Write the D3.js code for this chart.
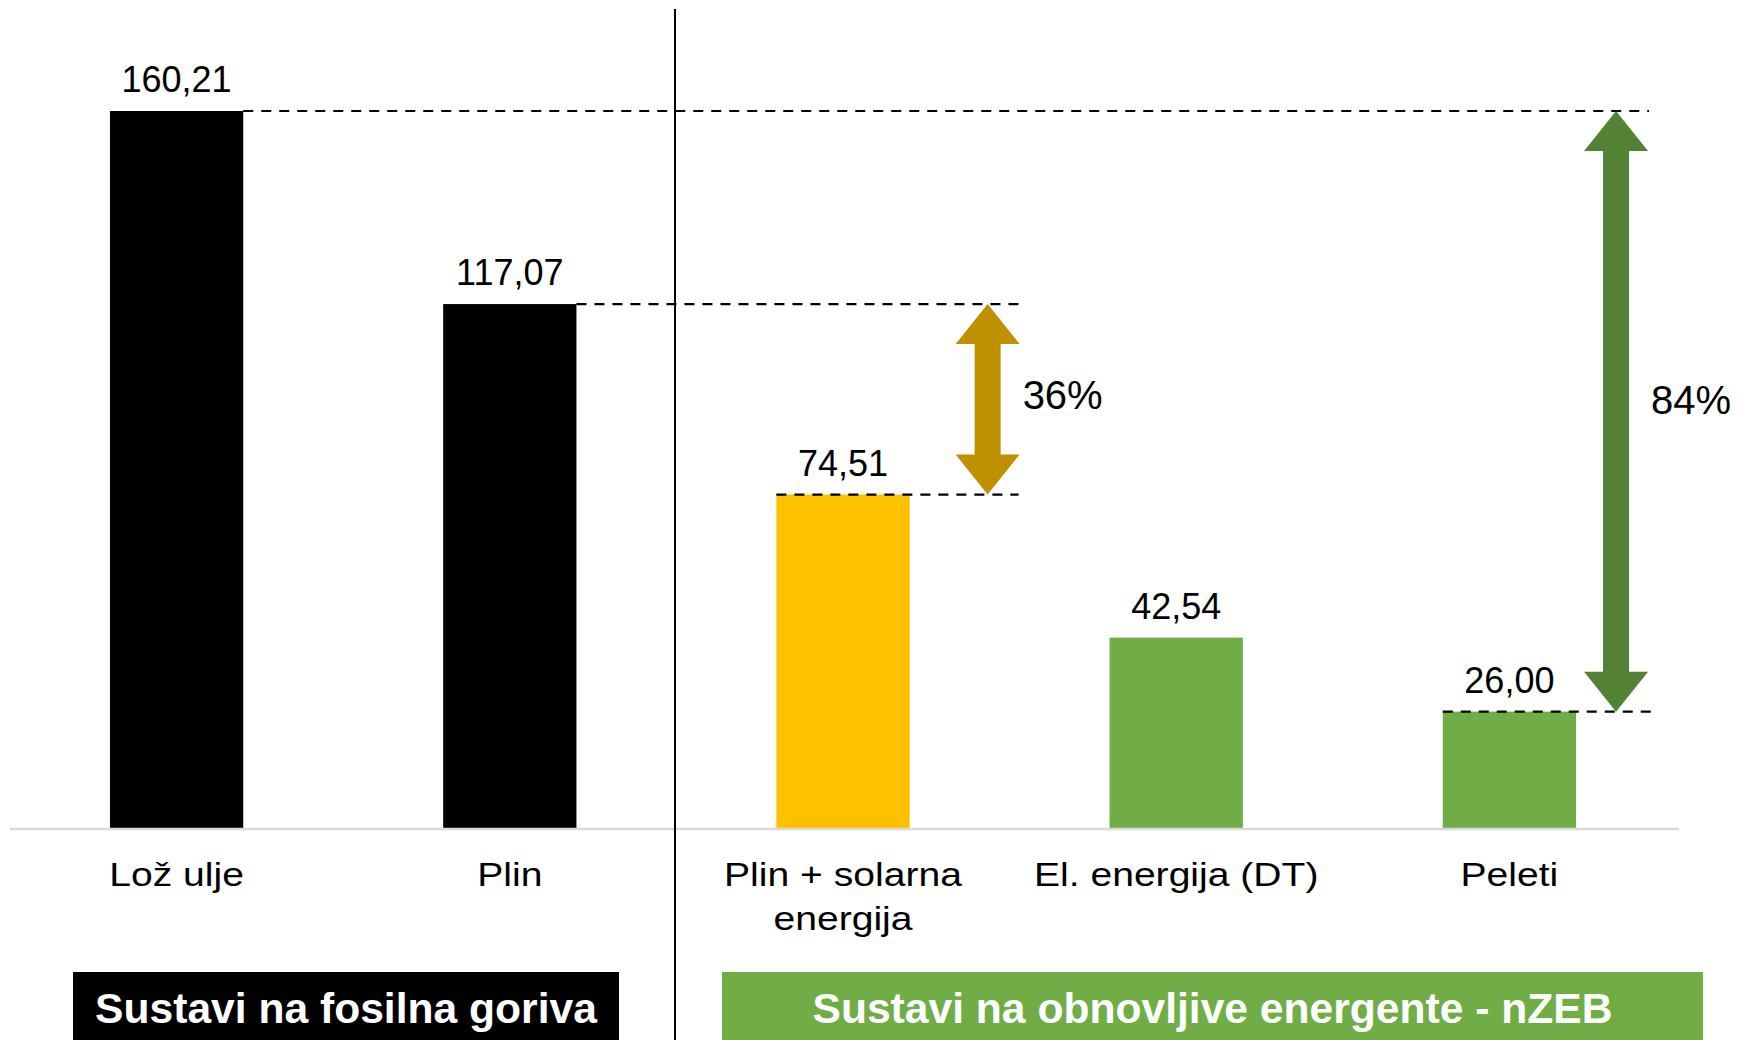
<!DOCTYPE html>
<html>
<head>
<meta charset="utf-8">
<script src="https://cdn.jsdelivr.net/npm/d3@7"></script>
<style>
  body { margin: 0; background: #fff; }
  svg { display: block; font-family: "Liberation Sans", Arial, sans-serif; }
</style>
</head>
<body>
<div id="chart"></div>
<script>
// data
const categories = ["Lož ulje", "Plin", "Plin + solarna energija", "El. energija (DT)", "Peleti"];
const labelLines = [["Lož ulje"], ["Plin"], ["Plin + solarna", "energija"], ["El. energija (DT)"], ["Peleti"]];
const values = [160.21, 117.07, 74.51, 42.54, 26.00];
const barColors = ["#000000", "#000000", "#FFC000", "#70AD47", "#70AD47"];
const savings = ["36%", "84%"];
const groupTitles = ["Sustavi na fosilna goriva", "Sustavi na obnovljive energente - nZEB"];

const width = 1740, height = 1040;
const baseY = 828, topY = 111;

const svg = d3.select("#chart").append("svg")
  .attr("width", width)
  .attr("height", height);

const x = d3.scaleBand()
  .domain(categories)
  .range([10, 1676])
  .paddingInner(0.6)
  .paddingOuter(0.3);

const y = d3.scaleLinear()
  .domain([0, d3.max(values)])
  .range([baseY, topY]);

const hr = d3.formatLocale({decimal: ",", thousands: ".", grouping: [3], currency: ["", "€"]});
const fmt = hr.format(".2f");

const bars = categories.map((c, i) => ({cat: c, value: values[i], color: barColors[i], lines: labelLines[i]}));

// bars
svg.append("g")
  .selectAll("rect")
  .data(bars)
  .join("rect")
  .attr("x", d => x(d.cat))
  .attr("y", d => y(d.value))
  .attr("width", x.bandwidth())
  .attr("height", d => baseY - y(d.value))
  .attr("fill", d => d.color);

// baseline
svg.append("line")
  .attr("x1", 10).attr("x2", 1679)
  .attr("y1", baseY + 1).attr("y2", baseY + 1)
  .attr("stroke", "#d9d9d9")
  .attr("stroke-width", 2.5);

// separator
svg.append("line")
  .attr("x1", 675).attr("x2", 675)
  .attr("y1", 9).attr("y2", height)
  .attr("stroke", "#000")
  .attr("stroke-width", 2);

// value labels
svg.append("g")
  .selectAll("text")
  .data(bars)
  .join("text")
  .attr("x", d => x(d.cat) + x.bandwidth() / 2)
  .attr("y", d => y(d.value) - 19)
  .attr("text-anchor", "middle")
  .attr("font-size", 36)
  .attr("fill", "#000")
  .text(d => fmt(d.value));

// category labels (slightly wide lettering)
const catG = svg.append("g")
  .selectAll("g")
  .data(bars)
  .join("g")
  .attr("transform", d => `translate(${x(d.cat) + x.bandwidth() / 2},886) scale(1.15,1)`);
catG.selectAll("text")
  .data(d => d.lines)
  .join("text")
  .attr("x", 0)
  .attr("y", (d, i) => i * 44)
  .attr("text-anchor", "middle")
  .attr("font-size", 34)
  .attr("fill", "#000")
  .text(d => d);

// reference dashed lines and arrows
const c = categories;
const gold = {from: 1, to: 2, x: x(c[2]) + x.bandwidth() + 78, color: "#BF9000", label: savings[0], dy: 10};
const green = {from: 0, to: 4, x: x(c[4]) + x.bandwidth() + 40, color: "#548235", label: savings[1], dy: 3};

const dashes = [
  {v: values[0], x1: x(c[0]) + x.bandwidth(), x2: green.x + 33},
  {v: values[1], x1: x(c[1]) + x.bandwidth(), x2: gold.x + 31},
  {v: values[2], x1: x(c[2]), x2: gold.x + 31},
  {v: values[4], x1: x(c[4]), x2: green.x + 36}
];

svg.append("g")
  .selectAll("line")
  .data(dashes)
  .join("line")
  .attr("x1", d => d.x1).attr("x2", d => d.x2)
  .attr("y1", d => y(d.v)).attr("y2", d => y(d.v))
  .attr("stroke", "#000")
  .attr("stroke-width", 2.2)
  .attr("stroke-dasharray", "10,8");

const headW = 32, headH = 40, shaftW = 13;
function arrowPath(cx, yTop, yBot) {
  return d3.line()([
    [cx, yTop], [cx + headW, yTop + headH], [cx + shaftW, yTop + headH],
    [cx + shaftW, yBot - headH], [cx + headW, yBot - headH], [cx, yBot],
    [cx - headW, yBot - headH], [cx - shaftW, yBot - headH],
    [cx - shaftW, yTop + headH], [cx - headW, yTop + headH]
  ]) + "Z";
}

[gold, green].forEach(a => {
  const yT = y(values[a.from]), yB = y(values[a.to]);
  svg.append("path")
    .attr("d", arrowPath(a.x, yT, yB))
    .attr("fill", a.color);
  svg.append("text")
    .attr("x", a.x + 35)
    .attr("y", (yT + yB) / 2 + a.dy)
    .attr("font-size", 40)
    .attr("fill", "#000")
    .text(a.label);
});

// group banners
const banners = [
  {x1: 73, x2: 619, fill: "#000000", text: groupTitles[0]},
  {x1: 722, x2: 1703, fill: "#70AD47", text: groupTitles[1]}
];
svg.append("g")
  .selectAll("rect")
  .data(banners)
  .join("rect")
  .attr("x", d => d.x1).attr("y", 972)
  .attr("width", d => d.x2 - d.x1)
  .attr("height", height - 972)
  .attr("fill", d => d.fill);
svg.append("g")
  .selectAll("text")
  .data(banners)
  .join("text")
  .attr("x", d => (d.x1 + d.x2) / 2)
  .attr("y", 1023)
  .attr("text-anchor", "middle")
  .attr("font-size", 42.6)
  .attr("font-weight", "bold")
  .attr("fill", "#fff")
  .text(d => d.text);
</script>
</body>
</html>
